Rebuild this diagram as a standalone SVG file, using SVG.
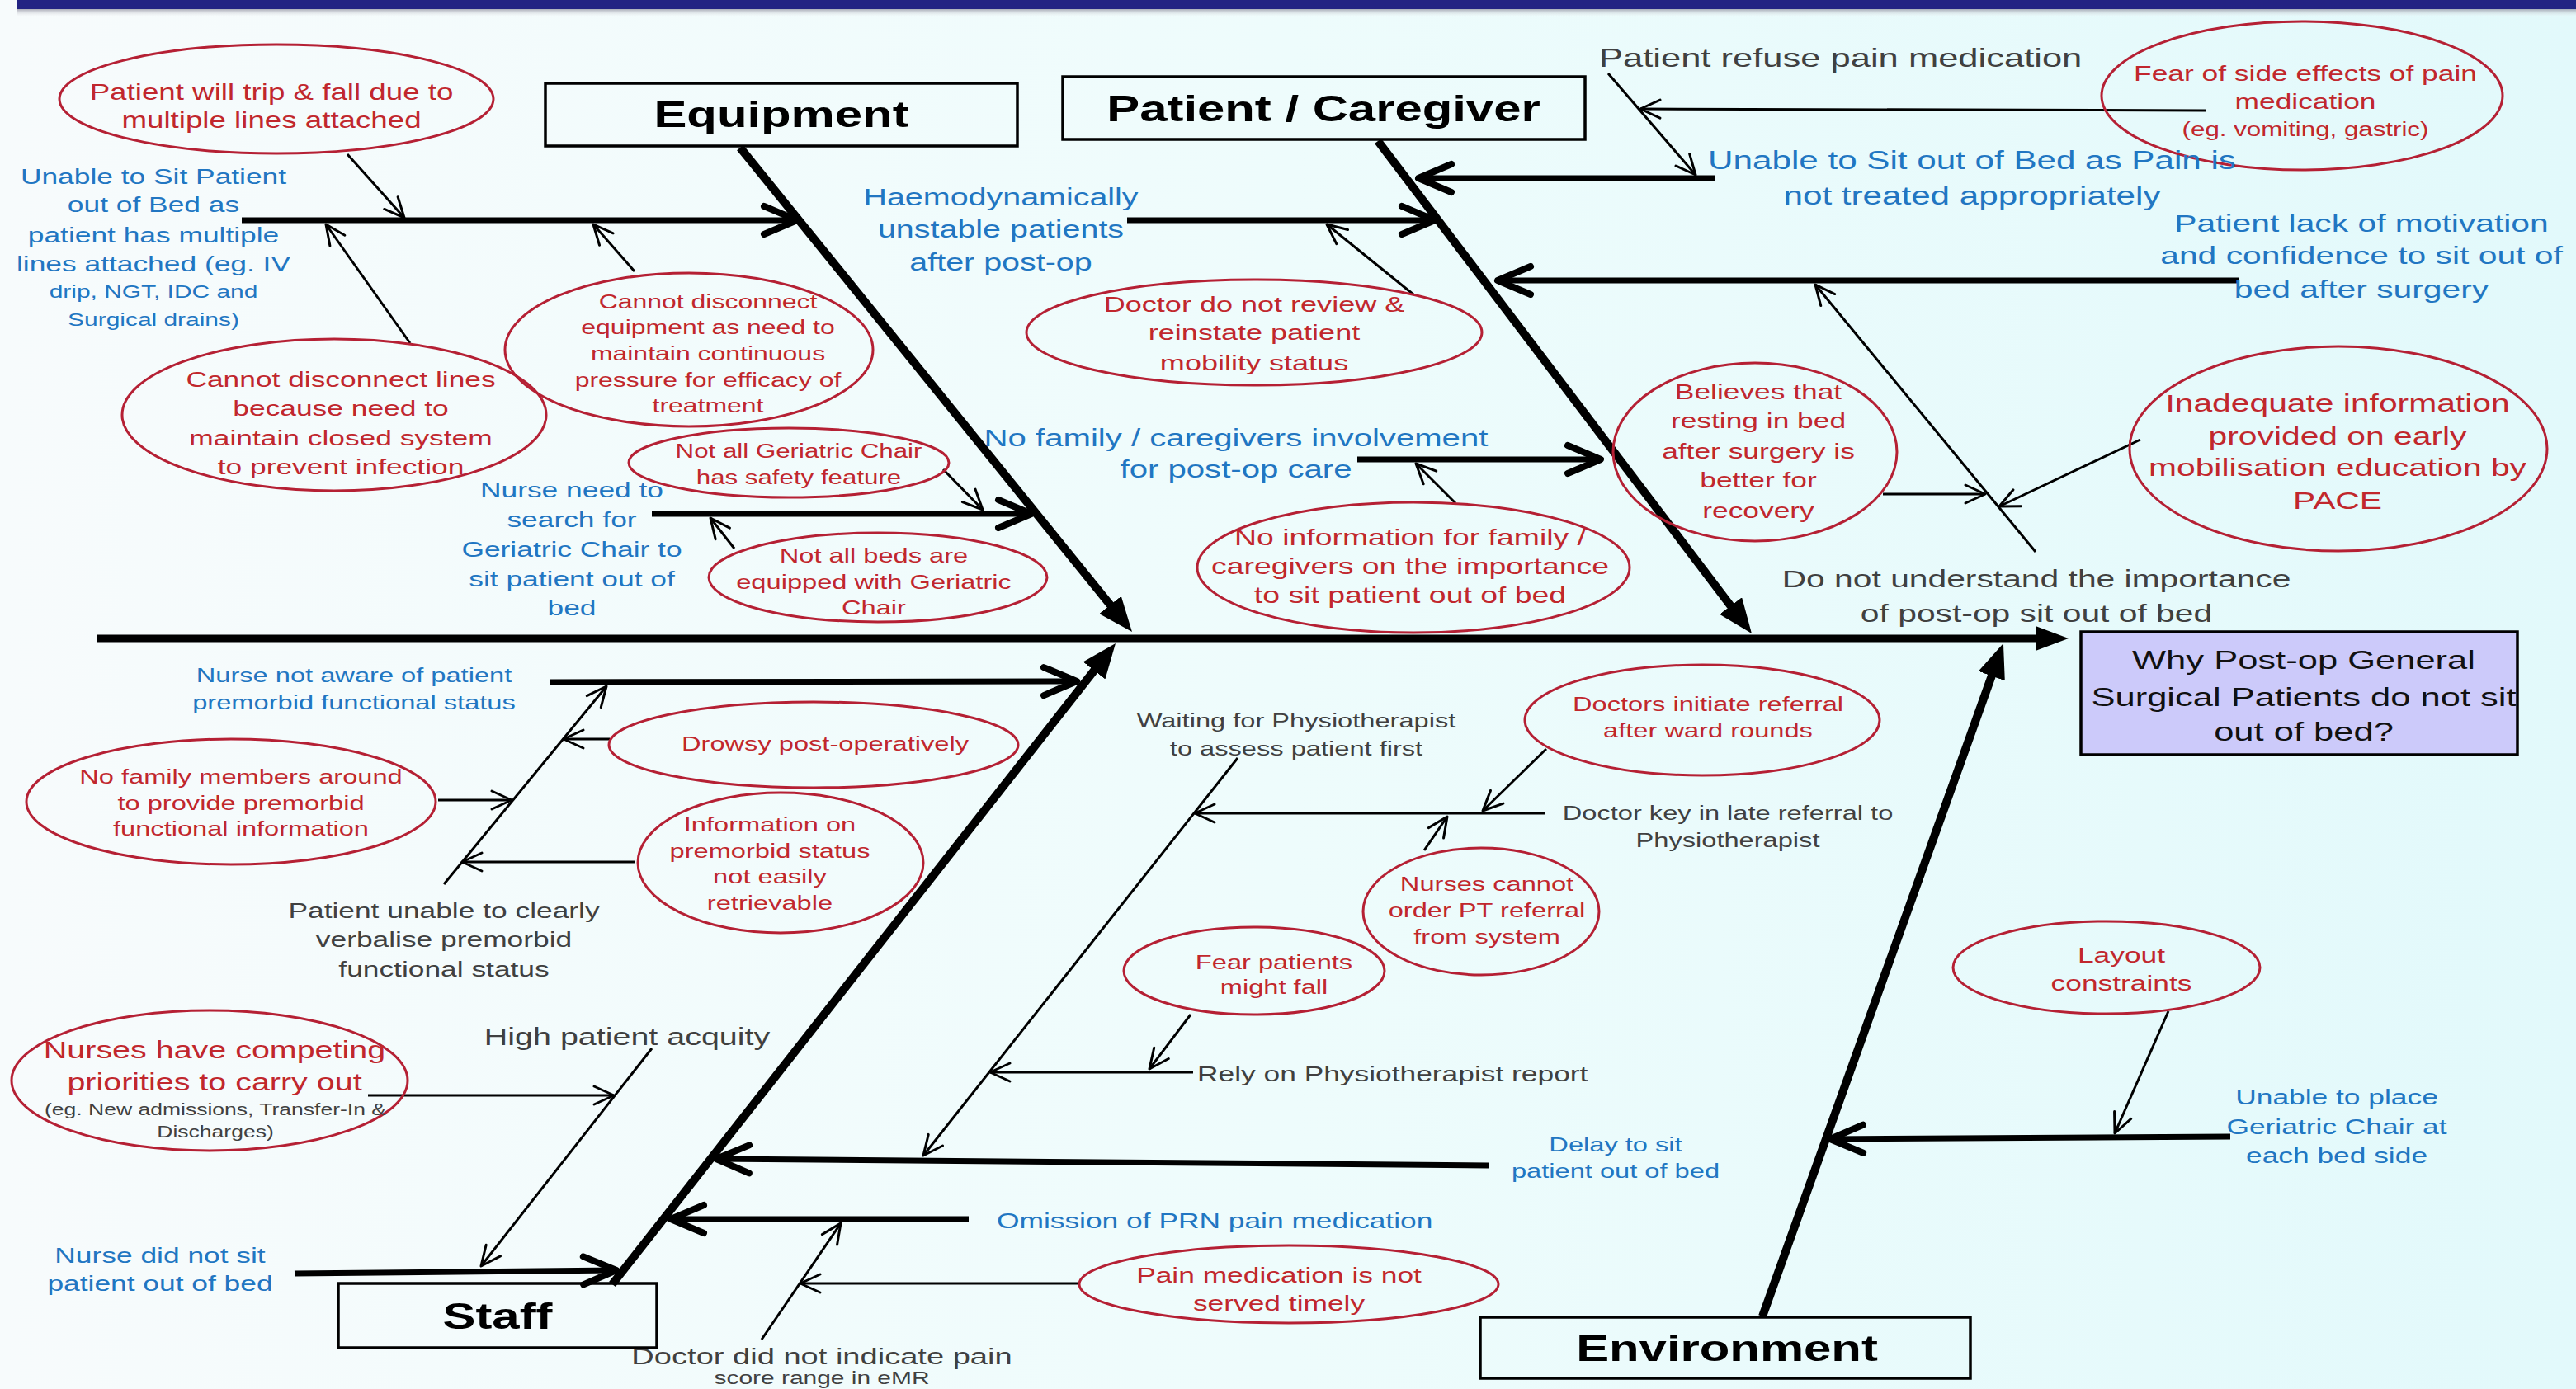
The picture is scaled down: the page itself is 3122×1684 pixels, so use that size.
<svg xmlns="http://www.w3.org/2000/svg" width="3122" height="1684" viewBox="0 0 3122 1684">
<style>
text{font-family:"Liberation Sans",Arial,sans-serif;text-anchor:middle}
.r{fill:#c1272d}
.b{fill:#2176c2}
.g{fill:#404040}
.k{fill:#111}
.cat{font-weight:bold;fill:#000}
.st{text-anchor:start}
.ell{fill:none;stroke:#b52034;stroke-width:3}
.box{fill:none;stroke:#000;stroke-width:3.5}
.spine{stroke:#000;stroke-width:9;fill:none}
.bone{stroke:#000;stroke-width:10;fill:none}
.br{stroke:#000;stroke-width:7;fill:none}
.thin{stroke:#000;stroke-width:3;fill:none}
</style>
<defs>
<linearGradient id="bg" x1="0" y1="0" x2="1" y2="0">
<stop offset="0" stop-color="#f7fbfc"/>
<stop offset="0.5" stop-color="#eefcfc"/>
<stop offset="1" stop-color="#e2f9fb"/>
</linearGradient>
<linearGradient id="sh" x1="0" y1="0" x2="0" y2="1">
<stop offset="0" stop-color="#8a8a9a" stop-opacity="0.7"/>
<stop offset="1" stop-color="#ffffff" stop-opacity="0"/>
</linearGradient>
<marker id="mBone" markerUnits="userSpaceOnUse" viewBox="0 0 42 34" markerWidth="42" markerHeight="34" refX="8" refY="17" orient="auto">
<path d="M0,0 L42,17 L0,34 z" fill="#000"/>
</marker>
<marker id="mRoot" markerUnits="userSpaceOnUse" viewBox="0 0 40 30" markerWidth="40" markerHeight="30" refX="6" refY="15" orient="auto">
<path d="M0,0 L40,15 L0,30 z" fill="#000"/>
</marker>
<marker id="mChev" markerUnits="userSpaceOnUse" viewBox="-50 -25 60 50" markerWidth="60" markerHeight="50" refX="0" refY="0" orient="auto">
<path d="M-40,-17 L0,0 L-40,17" fill="none" stroke="#000" stroke-width="8" stroke-linecap="round" stroke-linejoin="round"/>
</marker>
<marker id="mThin" markerUnits="userSpaceOnUse" viewBox="-30 -16 36 32" markerWidth="36" markerHeight="32" refX="0" refY="0" orient="auto">
<path d="M-24,-11 L0,0 L-24,11" fill="none" stroke="#000" stroke-width="3" stroke-linecap="round" stroke-linejoin="round"/>
</marker>
</defs>

<rect x="0" y="0" width="3122" height="1684" fill="url(#bg)"/>
<rect x="20" y="11" width="3102" height="10" fill="url(#sh)"/>
<rect x="20" y="0" width="3102" height="11" fill="#232383"/>

<g id="connectors">
<line class="spine" x1="118" y1="774" x2="2473" y2="774" marker-end="url(#mRoot)"/>
<line class="bone" x1="897" y1="179" x2="1350.6" y2="739.6" marker-end="url(#mBone)"/>
<line class="bone" x1="1670" y1="171" x2="2102.4" y2="740.9" marker-end="url(#mBone)"/>
<line class="bone" x1="742" y1="1557" x2="1331" y2="806.7" marker-end="url(#mBone)"/>
<line class="bone" x1="2136" y1="1596" x2="2416.5" y2="812" marker-end="url(#mBone)"/>

<line class="br" x1="293" y1="267" x2="966" y2="267" marker-end="url(#mChev)"/>
<line class="br" x1="790" y1="623" x2="1250" y2="623" marker-end="url(#mChev)"/>
<line class="br" x1="2079" y1="216" x2="1719" y2="216" marker-end="url(#mChev)"/>
<line class="br" x1="1366" y1="267" x2="1739" y2="267" marker-end="url(#mChev)"/>
<line class="br" x1="2713" y1="340" x2="1815" y2="340" marker-end="url(#mChev)"/>
<line class="br" x1="1645" y1="557" x2="1940" y2="557" marker-end="url(#mChev)"/>
<line class="br" x1="667" y1="827" x2="1305" y2="826" marker-end="url(#mChev)"/>
<line class="br" x1="357" y1="1544" x2="747" y2="1540" marker-end="url(#mChev)"/>
<line class="br" x1="1804" y1="1413" x2="868" y2="1405" marker-end="url(#mChev)"/>
<line class="br" x1="1174" y1="1478" x2="813" y2="1478" marker-end="url(#mChev)"/>
<line class="br" x1="2703" y1="1378" x2="2218" y2="1381" marker-end="url(#mChev)"/>

<line class="thin" x1="421" y1="187" x2="490" y2="264" marker-end="url(#mThin)"/>
<line class="thin" x1="497" y1="416" x2="395" y2="272" marker-end="url(#mThin)"/>
<line class="thin" x1="769" y1="329" x2="719" y2="272" marker-end="url(#mThin)"/>
<line class="thin" x1="1143" y1="569" x2="1191" y2="618" marker-end="url(#mThin)"/>
<line class="thin" x1="890" y1="665" x2="861" y2="628" marker-end="url(#mThin)"/>
<line class="thin" x1="1949" y1="89" x2="2055" y2="212" marker-end="url(#mThin)"/>
<line class="thin" x1="2673" y1="134" x2="1988" y2="132" marker-end="url(#mThin)"/>
<line class="thin" x1="1713" y1="357" x2="1608" y2="272" marker-end="url(#mThin)"/>
<line class="thin" x1="2467" y1="669" x2="2200" y2="345" marker-end="url(#mThin)"/>
<line class="thin" x1="2282" y1="599" x2="2406" y2="599" marker-end="url(#mThin)"/>
<line class="thin" x1="2594" y1="533" x2="2423" y2="614" marker-end="url(#mThin)"/>
<line class="thin" x1="1764" y1="610" x2="1716" y2="562" marker-end="url(#mThin)"/>
<line class="thin" x1="538" y1="1072" x2="735" y2="832" marker-end="url(#mThin)"/>
<line class="thin" x1="739" y1="896" x2="683" y2="896" marker-end="url(#mThin)"/>
<line class="thin" x1="531" y1="970" x2="620" y2="970" marker-end="url(#mThin)"/>
<line class="thin" x1="770" y1="1045" x2="560" y2="1045" marker-end="url(#mThin)"/>
<line class="thin" x1="790" y1="1271" x2="583" y2="1535" marker-end="url(#mThin)"/>
<line class="thin" x1="446" y1="1328" x2="744" y2="1328" marker-end="url(#mThin)"/>
<line class="thin" x1="1500" y1="919" x2="1119" y2="1401" marker-end="url(#mThin)"/>
<line class="thin" x1="1872" y1="986" x2="1448" y2="986" marker-end="url(#mThin)"/>
<line class="thin" x1="1874" y1="908" x2="1797" y2="983" marker-end="url(#mThin)"/>
<line class="thin" x1="1726" y1="1031" x2="1754" y2="990" marker-end="url(#mThin)"/>
<line class="thin" x1="1446" y1="1300" x2="1200" y2="1300" marker-end="url(#mThin)"/>
<line class="thin" x1="1443" y1="1230" x2="1393" y2="1296" marker-end="url(#mThin)"/>
<line class="thin" x1="923" y1="1624" x2="1019" y2="1483" marker-end="url(#mThin)"/>
<line class="thin" x1="1308" y1="1556" x2="970" y2="1556" marker-end="url(#mThin)"/>
<line class="thin" x1="2628" y1="1226" x2="2563" y2="1374" marker-end="url(#mThin)"/>
</g>

<g id="root">
<rect x="2522" y="766" width="529" height="149" fill="#cccafa" stroke="#000" stroke-width="3.5"/>
<text class="k" font-size="32" transform="matrix(1.36 0 0 1 2792 0)"><tspan x="0" y="811.5">Why Post-op General</tspan><tspan x="0" y="856.5">Surgical Patients do not sit</tspan><tspan x="0" y="898.5">out of bed?</tspan></text>
</g>

<g id="cat-equipment">
<rect class="box" x="661" y="101" width="572" height="76"/>
<text class="cat" font-size="44" transform="matrix(1.36 0 0 1 947 0)"><tspan x="0" y="154">Equipment</tspan></text>
</g>
<g id="cat-patient">
<rect class="box" x="1288" y="93" width="633" height="76"/>
<text class="cat" font-size="44" transform="matrix(1.36 0 0 1 1604 0)"><tspan x="0" y="147">Patient / Caregiver</tspan></text>
</g>
<g id="cat-staff">
<rect class="box" x="410" y="1556" width="386" height="78"/>
<text class="cat" font-size="44" transform="matrix(1.36 0 0 1 603 0)"><tspan x="0" y="1611">Staff</tspan></text>
</g>
<g id="cat-environment">
<rect class="box" x="1794" y="1597" width="594" height="74"/>
<text class="cat" font-size="44" transform="matrix(1.36 0 0 1 2093 0)"><tspan x="0" y="1650">Environment</tspan></text>
</g>

<g id="n-trip">
<ellipse class="ell" cx="335" cy="120" rx="263" ry="66"/>
<text class="r" font-size="27" transform="matrix(1.36 0 0 1 329 0)"><tspan x="0" y="121">Patient will trip &amp; fall due to</tspan><tspan x="0" y="155">multiple lines attached</tspan></text>
</g>
<g id="n-unable-lines">
<text class="b" font-size="26" transform="matrix(1.36 0 0 1 186 0)"><tspan x="0" y="223">Unable to Sit Patient</tspan><tspan x="0" y="257">out of Bed as</tspan><tspan x="0" y="294">patient has multiple</tspan><tspan x="0" y="329">lines attached  (eg. IV</tspan><tspan x="0" y="361" font-size="22">drip, NGT, IDC and</tspan><tspan x="0" y="395" font-size="22">Surgical drains)</tspan></text>
</g>
<g id="n-disc-lines">
<ellipse class="ell" cx="405" cy="503" rx="257" ry="92"/>
<text class="r" font-size="26" transform="matrix(1.36 0 0 1 413 0)"><tspan x="0" y="469">Cannot disconnect lines</tspan><tspan x="0" y="504">because need to</tspan><tspan x="0" y="540">maintain closed system</tspan><tspan x="0" y="575">to prevent infection</tspan></text>
</g>
<g id="n-disc-equip">
<ellipse class="ell" cx="835" cy="424" rx="223" ry="93"/>
<text class="r" font-size="23.5" transform="matrix(1.36 0 0 1 858 0)"><tspan x="0" y="374">Cannot disconnect</tspan><tspan x="0" y="405.5">equipment as need to</tspan><tspan x="0" y="437.5">maintain continuous</tspan><tspan x="0" y="469">pressure for efficacy of</tspan><tspan x="0" y="500.5">treatment</tspan></text>
</g>
<g id="n-chair-safety">
<ellipse class="ell" cx="956" cy="561" rx="194" ry="42"/>
<text class="r" font-size="23" transform="matrix(1.36 0 0 1 968 0)"><tspan x="0" y="555">Not all Geriatric Chair</tspan><tspan x="0" y="587">has safety feature</tspan></text>
</g>
<g id="n-beds">
<ellipse class="ell" cx="1064" cy="700" rx="205" ry="54"/>
<text class="r" font-size="24" transform="matrix(1.36 0 0 1 1059 0)"><tspan x="0" y="682">Not all beds are</tspan><tspan x="0" y="714">equipped with Geriatric</tspan><tspan x="0" y="745">Chair</tspan></text>
</g>
<g id="n-nurse-search">
<text class="b" font-size="26" transform="matrix(1.36 0 0 1 693 0)"><tspan x="0" y="603">Nurse need to</tspan><tspan x="0" y="639">search for</tspan><tspan x="0" y="675">Geriatric Chair to</tspan><tspan x="0" y="711">sit patient out of</tspan><tspan x="0" y="746">bed</tspan></text>
</g>

<g id="n-refuse">
<text class="g st" font-size="32" transform="matrix(1.36 0 0 1 1938 0)"><tspan x="0" y="81.5">Patient refuse pain medication</tspan></text>
</g>
<g id="n-fear-side">
<ellipse class="ell" cx="2790" cy="116" rx="243" ry="90"/>
<text class="r" font-size="26" transform="matrix(1.36 0 0 1 2794 0)"><tspan x="0" y="98">Fear of side effects of pain</tspan><tspan x="0" y="132">medication</tspan><tspan x="0" y="165" font-size="23">(eg. vomiting, gastric)</tspan></text>
</g>
<g id="n-pain">
<text class="b" font-size="31" transform="matrix(1.36 0 0 1 2390 0)"><tspan x="0" y="205">Unable to Sit out of Bed as Pain is</tspan><tspan x="0" y="248">not treated appropriately</tspan></text>
</g>
<g id="n-haemo">
<text class="b" font-size="29" transform="matrix(1.36 0 0 1 1213 0)"><tspan x="0" y="249">Haemodynamically</tspan><tspan x="0" y="288">unstable patients</tspan><tspan x="0" y="328">after post-op</tspan></text>
</g>
<g id="n-doctor-review">
<ellipse class="ell" cx="1520" cy="403" rx="276" ry="64"/>
<text class="r" font-size="26.5" transform="matrix(1.36 0 0 1 1520 0)"><tspan x="0" y="378.5">Doctor do not review &amp;</tspan><tspan x="0" y="412.5">reinstate patient</tspan><tspan x="0" y="449.5">mobility status</tspan></text>
</g>
<g id="n-motivation">
<text class="b" font-size="30" transform="matrix(1.36 0 0 1 2862 0)"><tspan x="0" y="281">Patient lack of motivation</tspan><tspan x="0" y="320">and confidence to sit out of</tspan><tspan x="0" y="361">bed after surgery</tspan></text>
</g>
<g id="n-understand">
<text class="g" font-size="30" transform="matrix(1.36 0 0 1 2468 0)"><tspan x="0" y="712">Do not understand the importance</tspan><tspan x="0" y="754">of post-op sit out of bed</tspan></text>
</g>
<g id="n-believes">
<ellipse class="ell" cx="2127" cy="548" rx="172" ry="108"/>
<text class="r" font-size="26" transform="matrix(1.36 0 0 1 2131 0)"><tspan x="0" y="484">Believes that</tspan><tspan x="0" y="519">resting in bed</tspan><tspan x="0" y="556">after surgery is</tspan><tspan x="0" y="591">better for</tspan><tspan x="0" y="628">recovery</tspan></text>
</g>
<g id="n-inadequate">
<ellipse class="ell" cx="2834" cy="544" rx="253" ry="124"/>
<text class="r" font-size="30" transform="matrix(1.36 0 0 1 2833 0)"><tspan x="0" y="499">Inadequate information</tspan><tspan x="0" y="539">provided on early</tspan><tspan x="0" y="577">mobilisation education by</tspan><tspan x="0" y="617">PACE</tspan></text>
</g>
<g id="n-no-family">
<text class="b" font-size="29.5" transform="matrix(1.36 0 0 1 1498 0)"><tspan x="0" y="541.5">No family / caregivers involvement</tspan><tspan x="0" y="579.5">for post-op care</tspan></text>
</g>
<g id="n-no-info">
<ellipse class="ell" cx="1713" cy="688" rx="262" ry="79"/>
<text class="r" font-size="27.5" transform="matrix(1.36 0 0 1 1709 0)"><tspan x="0" y="661">No information for family /</tspan><tspan x="0" y="696">caregivers on the importance</tspan><tspan x="0" y="731">to sit patient out of bed</tspan></text>
</g>

<g id="n-nurse-aware">
<text class="b" font-size="24" transform="matrix(1.36 0 0 1 429 0)"><tspan x="0" y="827.5">Nurse not aware of patient</tspan><tspan x="0" y="860">premorbid functional status</tspan></text>
</g>
<g id="n-verbalise">
<text class="g" font-size="26" transform="matrix(1.36 0 0 1 538 0)"><tspan x="0" y="1113">Patient unable to clearly</tspan><tspan x="0" y="1148">verbalise premorbid</tspan><tspan x="0" y="1184">functional status</tspan></text>
</g>
<g id="n-drowsy">
<ellipse class="ell" cx="986" cy="903" rx="248" ry="52"/>
<text class="r" font-size="24" transform="matrix(1.36 0 0 1 1000 0)"><tspan x="0" y="910.5">Drowsy post-operatively</tspan></text>
</g>
<g id="n-family-members">
<ellipse class="ell" cx="280" cy="972" rx="248" ry="76"/>
<text class="r" font-size="24" transform="matrix(1.36 0 0 1 292 0)"><tspan x="0" y="950.5">No family members around</tspan><tspan x="0" y="982">to provide premorbid</tspan><tspan x="0" y="1013.5">functional information</tspan></text>
</g>
<g id="n-info-premorbid">
<ellipse class="ell" cx="946" cy="1046" rx="173" ry="85"/>
<text class="r" font-size="24" transform="matrix(1.36 0 0 1 933 0)"><tspan x="0" y="1008">Information on</tspan><tspan x="0" y="1040">premorbid status</tspan><tspan x="0" y="1071.5">not easily</tspan><tspan x="0" y="1103">retrievable</tspan></text>
</g>
<g id="n-nurse-did-not">
<text class="b" font-size="26" transform="matrix(1.36 0 0 1 194 0)"><tspan x="0" y="1531">Nurse did not sit</tspan><tspan x="0" y="1565">patient out of bed</tspan></text>
</g>
<g id="n-acuity">
<text class="g" font-size="29" transform="matrix(1.36 0 0 1 760 0)"><tspan x="0" y="1267">High patient acquity</tspan></text>
</g>
<g id="n-competing">
<ellipse class="ell" cx="254" cy="1310" rx="240" ry="85"/>
<text class="r" font-size="29" transform="matrix(1.36 0 0 1 260 0)"><tspan x="0" y="1283.5">Nurses have competing</tspan><tspan x="0" y="1322.5">priorities to carry out</tspan></text>
<text class="g" font-size="19.5" transform="matrix(1.36 0 0 1 261 0)"><tspan x="0" y="1352">(eg. New admissions, Transfer-In &amp;</tspan><tspan x="0" y="1379">Discharges)</tspan></text>
</g>

<g id="n-delay">
<text class="b" font-size="24" transform="matrix(1.36 0 0 1 1958 0)"><tspan x="0" y="1396.5">Delay to sit</tspan><tspan x="0" y="1428.5">patient out of bed</tspan></text>
</g>
<g id="n-waiting">
<text class="g" font-size="24" transform="matrix(1.36 0 0 1 1571 0)"><tspan x="0" y="882.5">Waiting for Physiotherapist</tspan><tspan x="0" y="916.5">to assess patient first</tspan></text>
</g>
<g id="n-late-referral">
<text class="g" font-size="24" transform="matrix(1.36 0 0 1 2094 0)"><tspan x="0" y="994">Doctor key in late referral to</tspan><tspan x="0" y="1027.5">Physiotherapist</tspan></text>
</g>
<g id="n-doctors-initiate">
<ellipse class="ell" cx="2063" cy="873" rx="215" ry="67"/>
<text class="r" font-size="24" transform="matrix(1.36 0 0 1 2070 0)"><tspan x="0" y="862.5">Doctors initiate referral</tspan><tspan x="0" y="894.5">after ward rounds</tspan></text>
</g>
<g id="n-nurses-cannot">
<ellipse class="ell" cx="1795" cy="1105" rx="143" ry="77"/>
<text class="r" font-size="24" transform="matrix(1.36 0 0 1 1802 0)"><tspan x="0" y="1080.5">Nurses cannot</tspan><tspan x="0" y="1112.5">order PT referral</tspan><tspan x="0" y="1144.5">from system</tspan></text>
</g>
<g id="n-rely">
<text class="g st" font-size="26" transform="matrix(1.36 0 0 1 1451 0)"><tspan x="0" y="1311">Rely on Physiotherapist report</tspan></text>
</g>
<g id="n-fear-fall">
<ellipse class="ell" cx="1520" cy="1177" rx="158" ry="53"/>
<text class="r" font-size="24" transform="matrix(1.36 0 0 1 1544 0)"><tspan x="0" y="1175.5">Fear patients</tspan><tspan x="0" y="1205.5">might fall</tspan></text>
</g>
<g id="n-omission">
<text class="b st" font-size="26" transform="matrix(1.36 0 0 1 1208 0)"><tspan x="0" y="1489">Omission of PRN pain medication</tspan></text>
</g>
<g id="n-pain-score">
<text class="g" font-size="28" transform="matrix(1.36 0 0 1 996 0)"><tspan x="0" y="1654">Doctor did not indicate pain</tspan><tspan x="0" y="1678" font-size="22">score range in eMR</tspan></text>
</g>
<g id="n-pain-timely">
<ellipse class="ell" cx="1562" cy="1557" rx="254" ry="47"/>
<text class="r" font-size="26" transform="matrix(1.36 0 0 1 1550 0)"><tspan x="0" y="1555">Pain medication is not</tspan><tspan x="0" y="1589">served timely</tspan></text>
</g>

<g id="n-place-chair">
<text class="b" font-size="26" transform="matrix(1.36 0 0 1 2832 0)"><tspan x="0" y="1339">Unable to place</tspan><tspan x="0" y="1375">Geriatric Chair at</tspan><tspan x="0" y="1410">each bed side</tspan></text>
</g>
<g id="n-layout">
<ellipse class="ell" cx="2553" cy="1173" rx="186" ry="56"/>
<text class="r" font-size="26" transform="matrix(1.36 0 0 1 2571 0)"><tspan x="0" y="1167">Layout</tspan><tspan x="0" y="1201">constraints</tspan></text>
</g>
</svg>
